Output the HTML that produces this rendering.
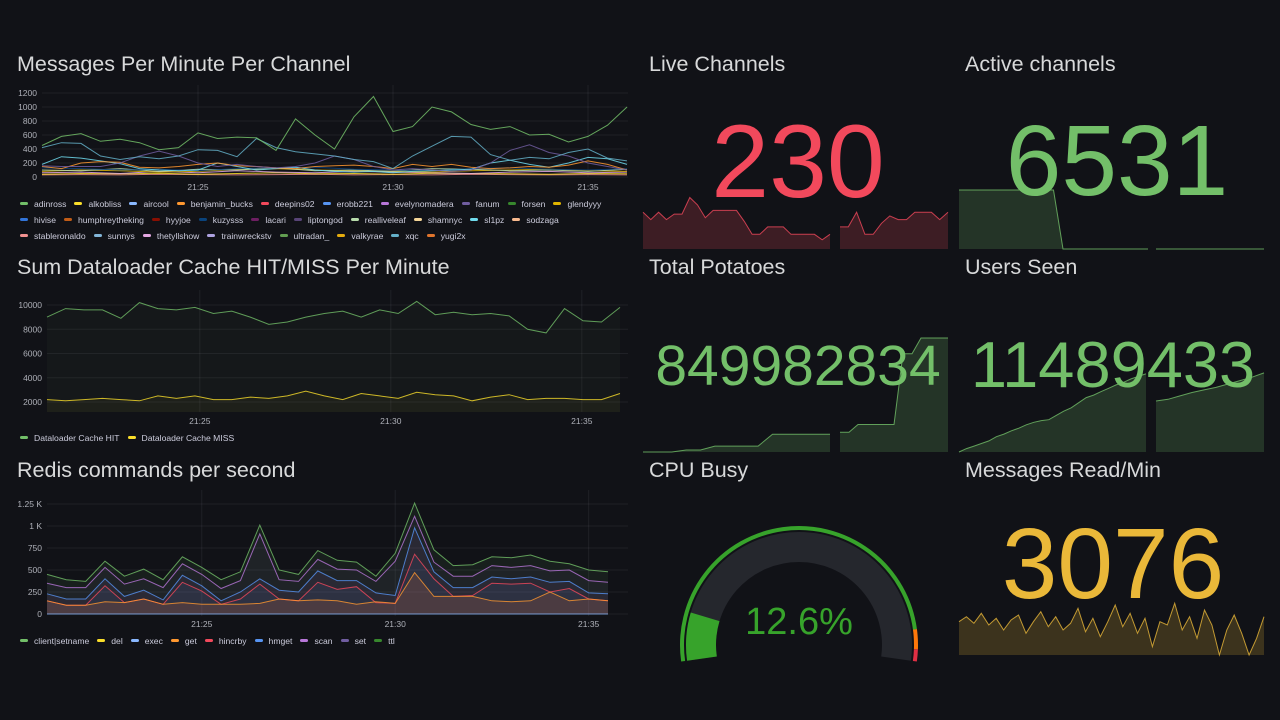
<!DOCTYPE html>
<html><head><meta charset="utf-8">
<style>
html,body{margin:0;padding:0;background:#111217;width:1280px;height:720px;overflow:hidden;font-family:"Liberation Sans",sans-serif;}
#root{position:relative;width:1280px;height:720px;}
svg{position:absolute;left:0;top:0;}
.title{position:absolute;color:#d8d9da;font-size:21.5px;white-space:nowrap;}
.legend{position:absolute;display:flex;flex-wrap:wrap;color:#ccccdc;font-size:8.6px;row-gap:5px;}
.li{display:flex;align-items:center;margin-right:8px;height:11px;}
.li i{display:inline-block;width:8px;height:3px;border-radius:2px;margin-right:6px;}
</style></head><body>
<div id="root">
<svg id="svg" width="1280" height="720"></svg>
<div class="title" style="left:17px;top:52px">Messages Per Minute Per Channel</div>
<div class="title" style="left:17px;top:255px">Sum Dataloader Cache HIT/MISS Per Minute</div>
<div class="title" style="left:17px;top:458px">Redis commands per second</div>
<div class="title" style="left:649px;top:52px">Live Channels</div>
<div class="title" style="left:965px;top:52px">Active channels</div>
<div class="title" style="left:649px;top:255px">Total Potatoes</div>
<div class="title" style="left:965px;top:255px">Users Seen</div>
<div class="title" style="left:649px;top:458px">CPU Busy</div>
<div class="title" style="left:965px;top:458px">Messages Read/Min</div>
<div class="legend" id="leg1" style="left:20px;top:198px;width:615px"></div>
<div class="legend" id="leg2" style="left:20px;top:432px;width:615px"></div>
<div class="legend" id="leg3" style="left:20px;top:635px;width:615px"></div>
</div>
<script>
// ---------- Chart 1 data (30s steps 21:21 -> 21:36) ----------
const ch1Names=["adinross","alkobliss","aircool","benjamin_bucks","deepins02","erobb221","evelynomadera","fanum","forsen","glendyyy","hivise","humphreytheking","hyyjoe","kuzysss","lacari","liptongod","realliveleaf","shamnyc","sl1pz","sodzaga","stableronaldo","sunnys","thetyllshow","trainwreckstv","ultradan_","valkyrae","xqc","yugi2x"];
const ch1Colors=["#73bf69","#fade2a","#8ab8ff","#ff9830","#f2495c","#5794f2","#b877d9","#705da0","#37872d","#e0b400","#3274d9","#c15c17","#890f02","#0a437c","#6d1f62","#584477","#b7dbab","#f4d598","#70dbed","#f9ba8f","#f29191","#82b5d8","#e5a8e2","#aea2e0","#629e51","#e5ac0e","#64b0c8","#e0752d"];
const ch1Top=[450,580,620,510,540,490,390,420,630,550,570,560,380,830,600,400,860,1150,650,720,1000,930,750,680,720,600,610,500,580,740,1000];
const ch1Blue=[420,490,480,300,250,290,260,300,390,380,290,550,420,360,330,300,250,220,120,300,440,580,570,320,240,280,260,350,400,270,230];
const ch1Purple=[160,150,150,150,200,300,370,300,200,150,180,150,130,150,200,300,250,150,100,120,100,80,100,200,380,460,350,300,200,150,100];
const ch1Orange=[150,120,200,220,210,140,130,150,180,200,160,150,130,120,150,160,170,150,120,180,150,180,140,120,130,150,140,170,230,180,100];
const ch1Cyan=[180,290,270,230,190,120,100,90,100,200,150,100,120,140,100,80,70,80,60,80,90,100,110,200,240,180,140,200,280,260,180];
const ch1Low1=[100,90,120,80,110,100,130,90,100,80,120,110,90,100,80,110];
const ch1Low2=[60,70,50,80,60,90,70,60,80,70,60,50,70,80,60,70];
const ch1Low3=[130,120,100,110,90,120,130,140,110,100,90,120,130,110,100,120];
const ch1Low4=[40,50,45,55,40,50,60,45,50,40,55,50,45,40,50,45];
const ch1Low5=[80,100,90,70,80,110,120,100,90,80,70,90,100,110,90,80];
const ch1Low6=[30,35,30,40,35,30,35,40,30,35,30,40,35,30,35,30];
const ch1YTicks=[0,200,400,600,800,1000,1200];
const timeTicks=["21:25","21:30","21:35"];
const timeTickMin=[4,9,14];
// ---------- Chart 2 data ----------
const ch2Names=["Dataloader Cache HIT","Dataloader Cache MISS"];
const ch2Hit=[9000,9700,9600,9600,8900,10200,9700,9600,9800,9300,9500,9000,8400,8600,9000,9300,9500,9000,9600,9300,10300,9200,9400,9200,9300,9100,8000,7700,9700,8700,8600,9800];
const ch2Miss=[2200,2100,2200,2300,2200,2100,2500,2300,2500,2200,2200,2400,2300,2500,2900,2500,2200,2700,2500,2300,2800,2600,2500,2100,2400,2600,2200,2300,2300,2200,2200,2700];
const ch2YTicks=[2000,4000,6000,8000,10000];
// ---------- Chart 3 data (stacked cumulative levels) ----------
const ch3Names=["client|setname","del","exec","get","hincrby","hmget","scan","set","ttl"];
const ch3LegendColors=["#73bf69","#fade2a","#8ab8ff","#ff9830","#f2495c","#5794f2","#b877d9","#705da0","#37872d"];
const ch3Get=[150,100,100,140,130,170,110,130,110,110,110,120,170,150,160,150,110,140,120,470,200,200,200,150,140,150,250,150,170,150];
const ch3Hincrby=[150,100,100,320,130,170,110,360,260,110,170,340,170,150,360,280,310,130,120,680,400,200,210,350,340,350,250,290,170,150];
const ch3Hmget=[230,170,170,400,200,270,160,440,320,150,250,400,270,250,490,380,380,240,210,980,480,300,300,420,400,420,360,370,240,230];
const ch3Scan=[350,300,300,530,340,400,300,570,450,290,380,910,390,370,620,510,500,370,600,1110,590,430,430,550,530,550,490,500,380,360];
const ch3Ttl=[450,390,370,600,430,510,390,650,530,390,480,1010,500,450,720,610,590,430,690,1260,730,550,560,650,640,670,600,570,500,480];
const ch3YTicks=[0,250,500,750,1000,1250];
const ch3YLabels=["0","250","500","750","1 K","1.25 K"];
// ---------- Stat sparklines ----------
const liveSeg1=[232,228,232,228,231,231,240,236,229,233,233,233,233,227,220,220,224,224,224,220,220,220,220,217,220];
const liveSeg2=[224,224,232,220,220,226,230,228,228,232,232,232,228,232];
const activeSeg1=[6531,6531,6531,6531,6531,6531,6531,6531,6531,6531,6531,0,0,0,0,0,0,0,0,0,0];
const activeSeg2=[0,0,0,0,0];
const potSeg1=[0,0,0,2,2,6,6,6,6,18,18,18,18,18];
const potSeg2=[20,20,28,28,28,28,28,100,100,116,116,116,116];
const usersSeg1=[0,4,7,10,13,18,21,25,28,32,35,37,38,43,48,52,58,64,67,71,75,79,82,86,89,92];
const usersSeg2=[60,62,66,70,73,76,80,84,88,93];
const readMsgs=[40,46,38,50,36,44,30,42,48,26,40,52,34,46,30,38,56,28,44,22,40,60,34,50,26,44,10,40,36,62,30,46,20,54,36,0,30,48,26,0,20,46];
const cpuValue=12.6;

const svg=document.getElementById('svg');
const NS='http://www.w3.org/2000/svg';
function mk(tag,attrs){const e=document.createElementNS(NS,tag);for(const k in attrs)e.setAttribute(k,attrs[k]);svg.appendChild(e);return e;}
const gridC='rgba(204,204,220,0.08)';
const tickC='#aeb0b8';
function pathFrom(pts){return pts.map((p,i)=>(i?'L':'M')+p[0].toFixed(1)+' '+p[1].toFixed(1)).join(' ');}

function axes(xl,xr,yFn,ticks,labels,name){
  ticks.forEach((t,i)=>{
    const y=yFn(t);
    const g=mk('line',{x1:xl,x2:xr,y1:y,y2:y,stroke:gridC});
    
    
    const tx=mk('text',{x:xl-5,y:y+3,'text-anchor':'end','font-size':'8.5',fill:tickC});
    tx.textContent=labels[i];
    
    
  });
}
function timeAxis(xFn,yTop,yBot,xLabY,name){
  timeTicks.forEach((t,i)=>{
    const x=xFn(timeTickMin[i]);
    const g=mk('line',{x1:x,x2:x,y1:yTop,y2:yBot,stroke:gridC});
    
    
    const tx=mk('text',{x:x,y:xLabY,'text-anchor':'middle','font-size':'8.5',fill:tickC});
    tx.textContent=t;
    
    
  });
}
function legend(id,names,colors,name){
  const L=document.getElementById(id);
  names.forEach((n,i)=>{
    const d=document.createElement('div');d.className='li';
    
    
    d.innerHTML='<i style="background:'+colors[i]+'"></i>'+n;
    L.appendChild(d);
  });
}

// ---------- Chart 1 ----------
{
  const xl=42,xr=627,yb=177,yt=93;
  const xMin=m=>xl+m/15*(xr-xl);
  const y=v=>yb-v/1200*(yb-yt);
  axes(xl,628,y,ch1YTicks,ch1YTicks.map(String),'messages-chart');
  timeAxis(xMin,85,yb,190,'messages-chart');
  const series=[[ch1Low6,20],[ch1Low4,1],[ch1Low2,22],[ch1Low5,9],[ch1Low1,16],[ch1Low3,13],[ch1Cyan,18],[ch1Orange,3],[ch1Purple,7],[ch1Blue,26],[ch1Top,0]];
  series.forEach(([arr,ci])=>{
    const n=arr.length;
    const p=mk('path',{d:pathFrom(arr.map((v,i)=>[xl+i/(n-1)*(xr-xl),y(v)])),fill:'none',stroke:ch1Colors[ci],'stroke-width':1,'stroke-opacity':0.85});
    
    
  });
  legend('leg1',ch1Names,ch1Colors,'messages');
}
// ---------- Chart 2 ----------
{
  const xl=47,xr=620,yb=402,yt=305;
  const xMin=m=>xl+m/15*(xr-xl);
  const y=v=>yb-(v-2000)/8000*(yb-yt);
  axes(xl,628,y,ch2YTicks,ch2YTicks.map(String),'dataloader-chart');
  timeAxis(xMin,290,412,424,'dataloader-chart');
  [[ch2Hit,'#73bf69','hit'],[ch2Miss,'#fade2a','miss']].forEach(([arr,c,nm])=>{
    const n=arr.length;
    const pts=arr.map((v,i)=>[xl+i/(n-1)*(xr-xl),y(v)]);
    const a=mk('path',{d:pathFrom(pts)+` L${xr} 412 L${xl} 412 Z`,fill:c,'fill-opacity':0.04});
    
    
    const p=mk('path',{d:pathFrom(pts),fill:'none',stroke:c,'stroke-width':1,'stroke-opacity':0.8});
    
    
  });
  legend('leg2',ch2Names,["#73bf69","#fade2a"],'dataloader');
}
// ---------- Chart 3 ----------
{
  const xl=47,xr=608,yb=614,yt=504;
  const xMin=m=>xl+m/14.5*(xr-xl);
  const y=v=>yb-v/1250*(yb-yt);
  axes(xl,628,y,ch3YTicks,ch3YLabels,'redis-chart');
  timeAxis(xMin,490,616,627,'redis-chart');
  const n=ch3Get.length;
  const X=i=>xl+i/(n-1)*(xr-xl);
  const layers=[[ch3Ttl,'#73bf69','ttl'],[ch3Scan,'#705da0','set'],[ch3Hmget,'#b877d9','scan'],[ch3Hincrby,'#5794f2','hmget'],[ch3Get,'#f2495c','hincrby'],[ch3Get,'#ff9830','get']];
  layers.forEach(([arr,c,nm])=>{
    const pts=arr.map((v,i)=>[X(i),y(v)]);
    const a=mk('path',{d:pathFrom(pts)+` L${xr} ${yb} L${xl} ${yb} Z`,fill:c,'fill-opacity':0.08});
    
    
  });
  [[ch3Ttl,'#73bf69','ttl'],[ch3Scan,'#b877d9','scan'],[ch3Hmget,'#5794f2','hmget'],[ch3Hincrby,'#f2495c','hincrby'],[ch3Get,'#ff9830','get']].forEach(([arr,c,nm])=>{
    const p=mk('path',{d:pathFrom(arr.map((v,i)=>[X(i),y(v)])),fill:'none',stroke:c,'stroke-width':1,'stroke-opacity':0.8});
    
    
  });
  const base=mk('line',{x1:xl,x2:xr,y1:yb,y2:yb,stroke:'#8ab8ff','stroke-width':1.5,'stroke-opacity':0.5});
  
  
  legend('leg3',ch3Names,ch3LegendColors,'redis');
}
// ---------- Sparklines ----------
function spark(arr,x0,x1,yt,yb,min,max,c,nm){
  const n=arr.length;
  const pts=arr.map((v,i)=>[x0+i/(n-1)*(x1-x0),yb-(v-min)/(max-min)*(yb-yt)]);
  const a=mk('path',{d:pathFrom(pts)+` L${x1} ${yb} L${x0} ${yb} Z`,fill:c,'fill-opacity':0.2});
  
  
  const p=mk('path',{d:pathFrom(pts),fill:'none',stroke:c,'stroke-width':1,'stroke-opacity':0.8});
  
  
}
spark(liveSeg1,643,830,192,249,212,243,'#f2495c','live-channels');
spark(liveSeg2,840,948,192,249,212,243,'#f2495c','live-channels');
spark(activeSeg1,959,1148,190,249,0,6531,'#73bf69','active-channels');
spark(activeSeg2,1156,1264,190,249,0,6531,'#73bf69','active-channels');
spark(potSeg1,643,830,338,452,0,116,'#73bf69','total-potatoes');
spark(potSeg2,840,948,338,452,0,116,'#73bf69','total-potatoes');
spark(usersSeg1,959,1146,350,452,0,120,'#73bf69','users-seen');
spark(usersSeg2,1156,1264,350,452,0,120,'#73bf69','users-seen');
spark(readMsgs,959,1264,600,655,0,66,'#eab839','messages-read');

// ---------- Gauge ----------
{
  const cx=799,cy=645,a0=188,a1=-8;
  const pt=(a,r)=>[cx+r*Math.cos(a*Math.PI/180),cy-r*Math.sin(a*Math.PI/180)];
  function arc(r,from,to,c,w,nm){
    const p0=pt(from,r),p1=pt(to,r);
    const large=Math.abs(from-to)>180?1:0;
    const p=mk('path',{d:`M${p0[0]} ${p0[1]} A${r} ${r} 0 ${large} 1 ${p1[0]} ${p1[1]}`,fill:'none',stroke:c,'stroke-width':w});
    
    
  }
  const span=a0-a1;
  arc(117,a0,a0-span*0.92,'#37a32b',4,'gauge-threshold-green');
  arc(117,a0-span*0.92,a0-span*0.97,'#ff780a',4,'gauge-threshold-orange');
  arc(117,a0-span*0.97,a1,'#e02f44',4,'gauge-threshold-red');
  arc(98,a0,a1,'#25272d',30,'gauge-track');
  arc(98,a0,a0-span*cpuValue/100,'#37a32b',30,'gauge-value-arc');
  const t=mk('text',{x:cx,y:634,'text-anchor':'middle','font-size':'38',fill:'#37a32b'});
  t.textContent=cpuValue+'%';
  
  
}
// ---------- Big stat values ----------
function big(txt,x,y,size,c,nm){
  const t=mk('text',{x:x,y:y,'text-anchor':'middle','font-size':size,fill:c});
  t.textContent=txt;
  
  
}
big('230',798,197,104,'#f2495c','live-channels-value');
big('6531',1117,195,100,'#73bf69','active-channels-value');
big('849982834',798,385,57,'#73bf69','total-potatoes-value');
big('11489433',1113,387,65,'#73bf69','users-seen-value');
big('3076',1113,598,100,'#eab839','messages-read-value');
</script>
</body></html>
